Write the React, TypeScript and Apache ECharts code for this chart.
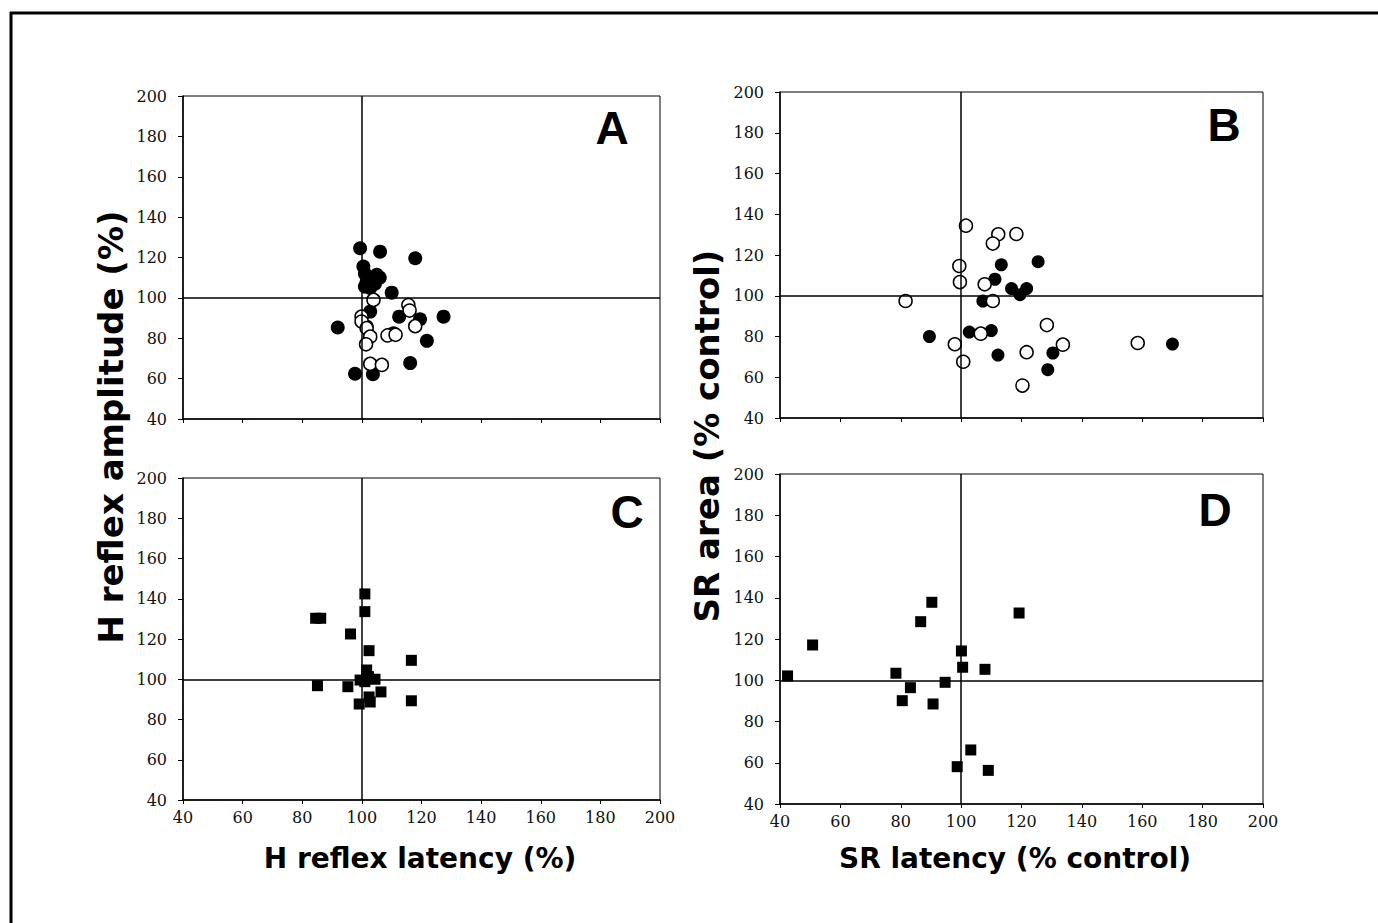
import React, { useEffect, useRef } from "react";
import * as echarts from "echarts";

const axisMin = 40;
const axisMax = 200;
const axisStep = 20;

const aFilled = [
  [99.4, 124.6], [106.1, 122.9], [117.9, 119.6], [100.5, 115.5], [101, 112], [106, 110],
  [101.6, 108], [101, 105.6], [104.4, 107], [102.8, 104.9], [110, 102.6], [127.4, 90.7],
  [91.9, 85.3], [112.5, 90.7], [119.5, 89.4], [102.8, 93.2], [110.6, 82.5], [101.6, 85.8],
  [121.8, 78.7], [116.2, 67.7], [97.7, 62.4], [103.7, 62.2], [105, 111.4],
];
const aOpen = [
  [103.9, 99], [115.6, 96.5], [116, 93.7], [117.9, 86], [99.9, 90.7], [99.9, 88.3],
  [101.6, 85], [102.8, 80.8], [108.6, 81.4], [111.3, 81.7], [101.4, 77], [102.8, 67.3],
  [106.7, 66.8],
];
const bFilled = [
  [113.3, 115.2], [125.5, 116.7], [111.2, 108.1], [116.7, 103.5], [119.5, 100.5], [121.7, 103.5],
  [107.2, 97.4], [89.5, 80], [102.7, 82.2], [110, 82.9], [112.2, 70.9], [130.4, 71.9],
  [128.7, 63.7], [170, 76.3],
];
const bOpen = [
  [101.6, 134.4], [112.3, 130.2], [118.3, 130.3], [110.5, 125.6], [99.4, 114.6], [99.6, 106.7],
  [107.8, 105.6], [81.6, 97.4], [110.5, 97.4], [106.5, 81.4], [97.9, 76.2], [100.7, 67.6],
  [121.7, 72.3], [128.4, 85.6], [133.7, 76], [120.3, 55.9], [158.5, 76.8],
];
const cSquares = [
  [101, 142.4], [101, 133.6], [84.5, 130.3], [86.2, 130.3], [96.2, 122.5], [102.4, 114.2],
  [116.6, 109.4], [101.6, 104.6], [99.4, 99.6], [102.2, 101.3], [104.4, 100], [101, 98.8],
  [85.1, 96.8], [95.3, 96.3], [106.4, 93.7], [102.4, 91.2], [102.8, 88.7], [99.1, 87.7],
  [116.6, 89.3],
];
const dSquares = [
  [42.5, 102.1], [50.8, 117.1], [90.3, 137.8], [86.6, 128.4], [100.1, 114.2], [100.5, 106.3],
  [107.9, 105.3], [78.4, 103.4], [94.7, 99], [83.2, 96.4], [80.5, 90.1], [90.7, 88.5],
  [103.2, 66.2], [98.7, 58.1], [109, 56.3], [119.2, 132.6],
];
const refValue = 100;

const panelLetters = ["A", "B", "C", "D"];
const xTitles = ["H reflex latency (%)", "SR latency (% control)"];
const yTitles = ["H reflex amplitude (%)", "SR area (% control)"];

export default function App() {
  const ref = useRef<HTMLDivElement>(null);
  useEffect(() => {
    document.body.style.margin = "0";
    const chart = echarts.init(ref.current!, null, { renderer: "svg" });
    const grids = [
      { left: 183, top: 96, width: 477, height: 323 },
      { left: 780, top: 92, width: 483, height: 326 },
      { left: 183, top: 478, width: 477, height: 322 },
      { left: 780, top: 474, width: 483, height: 330 },
    ].map((g) => ({ ...g, show: true, borderColor: "#000", borderWidth: 1, backgroundColor: "transparent" }));
    const tickFont = { fontFamily: "DejaVu Serif", fontSize: 16, color: "#111" };
    const xAxes = grids.map((_, i) => ({
      type: "value",
      gridIndex: i,
      min: axisMin,
      max: axisMax,
      interval: axisStep,
      splitLine: { show: false },
      axisLine: { show: true, lineStyle: { color: "#000", width: 1.5 } },
      axisTick: { show: true, length: 4, lineStyle: { color: "#000" } },
      axisLabel: { show: i >= 2, margin: 9, ...tickFont },
    }));
    const yAxes = grids.map((_, i) => ({
      type: "value",
      gridIndex: i,
      min: axisMin,
      max: axisMax,
      interval: axisStep,
      splitLine: { show: false },
      axisLine: { show: true, lineStyle: { color: "#000", width: 1.5 } },
      axisTick: { show: true, length: 5, lineStyle: { color: "#000" } },
      axisLabel: { show: true, margin: 16, ...tickFont },
    }));
    const refLine = {
      silent: true,
      symbol: ["none", "none"],
      label: { show: false },
      lineStyle: { color: "#000", width: 1.5, type: "solid", opacity: 1 },
      data: [{ xAxis: refValue }, { yAxis: refValue }],
    };
    const filled = { color: "#000", opacity: 1 };
    const open = { color: "#fff", borderColor: "#000", borderWidth: 1.5, opacity: 1 };
    const series: any[] = [
      { type: "scatter", xAxisIndex: 0, yAxisIndex: 0, data: aFilled, symbol: "circle", symbolSize: 14, itemStyle: filled, markLine: refLine },
      { type: "scatter", xAxisIndex: 0, yAxisIndex: 0, data: aOpen, symbol: "circle", symbolSize: 13, itemStyle: open },
      { type: "scatter", xAxisIndex: 1, yAxisIndex: 1, data: bFilled, symbol: "circle", symbolSize: 13, itemStyle: filled, markLine: refLine },
      { type: "scatter", xAxisIndex: 1, yAxisIndex: 1, data: bOpen, symbol: "circle", symbolSize: 13, itemStyle: open },
      { type: "scatter", xAxisIndex: 2, yAxisIndex: 2, data: cSquares, symbol: "rect", symbolSize: 11, itemStyle: filled, markLine: refLine },
      { type: "scatter", xAxisIndex: 3, yAxisIndex: 3, data: dSquares, symbol: "rect", symbolSize: 11, itemStyle: filled, markLine: refLine },
    ];
    const letterPos = [
      [612, 128], [1224, 125], [627, 512], [1215, 510],
    ];
    const xTitleFont = "bold 28px 'DejaVu Sans', sans-serif";
    const yTitleFont = "bold 34px 'DejaVu Sans', sans-serif";
    const graphic: any[] = [
      { type: "line", shape: { x1: 10, y1: 13, x2: 1378, y2: 13 }, style: { stroke: "#000", lineWidth: 3 } },
      { type: "line", shape: { x1: 11, y1: 12, x2: 11, y2: 923 }, style: { stroke: "#000", lineWidth: 3 } },
      ...panelLetters.map((t, i) => ({
        type: "text",
        x: letterPos[i][0],
        y: letterPos[i][1],
        style: { text: t, font: "bold 46px 'Liberation Sans', Arial, sans-serif", fill: "#000", textAlign: "center", textVerticalAlign: "middle" },
      })),
      { type: "text", x: 420, y: 858, style: { text: xTitles[0], font: xTitleFont, fill: "#000", textAlign: "center", textVerticalAlign: "middle" } },
      { type: "text", x: 1015, y: 858, style: { text: xTitles[1], font: xTitleFont, fill: "#000", textAlign: "center", textVerticalAlign: "middle" } },
      { type: "text", x: 111, y: 427, rotation: Math.PI / 2, style: { text: yTitles[0], font: yTitleFont, fill: "#000", textAlign: "center", textVerticalAlign: "middle" } },
      { type: "text", x: 707, y: 436, rotation: Math.PI / 2, style: { text: yTitles[1], font: yTitleFont, fill: "#000", textAlign: "center", textVerticalAlign: "middle" } },
    ];
    chart.setOption({
      animation: false,
      backgroundColor: "#fff",
      grid: grids,
      xAxis: xAxes,
      yAxis: yAxes,
      series,
      graphic,
    });
    return () => chart.dispose();
  }, []);
  return <div ref={ref} style={{ width: 1378, height: 923 }} />;
}
